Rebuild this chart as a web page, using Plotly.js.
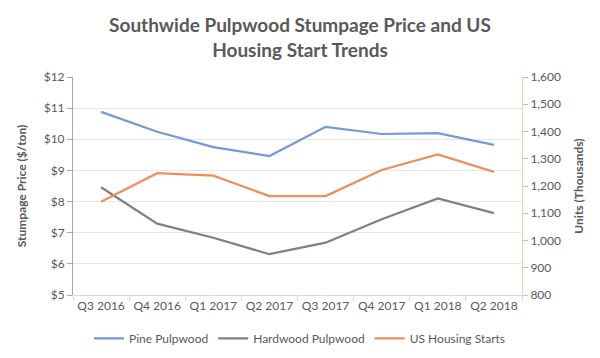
<!DOCTYPE html>
<html><head><meta charset="utf-8">
<script src="https://cdn.plot.ly/plotly-3.0.1.min.js"></script>
<style>html,body{margin:0;padding:0;background:#fff}#chart{width:600px;height:358px}</style>
</head><body><div id="chart"></div>
<script>
const quarters = ["Q3 2016","Q4 2016","Q1 2017","Q2 2017","Q3 2017","Q4 2017","Q1 2018","Q2 2018"];
const pinePulpwood = [10.88, 10.24, 9.75, 9.46, 10.40, 10.17, 10.20, 9.82];
const hardwoodPulpwood = [8.46, 7.29, 6.84, 6.31, 6.68, 7.43, 8.10, 7.63];
const housingStarts = [1142, 1247, 1238, 1163, 1163, 1259, 1316, 1252];
const leftTicks = [5,6,7,8,9,10,11,12];
const rightTicks = [800,900,1000,1100,1200,1300,1400,1500,1600];

const font = "Lato, 'Open Sans', sans-serif";
const traces = [
  {x: quarters, y: pinePulpwood, name: "Pine Pulpwood", type: "scatter", mode: "lines",
   line: {color: "#7798D6", width: 2.2}, yaxis: "y"},
  {x: quarters, y: hardwoodPulpwood, name: "Hardwood Pulpwood", type: "scatter", mode: "lines",
   line: {color: "#808080", width: 2.2}, yaxis: "y"},
  {x: quarters, y: housingStarts, name: "US Housing Starts", type: "scatter", mode: "lines",
   line: {color: "#EE8E58", width: 2.2}, yaxis: "y2"}
];
const layout = {
  width: 600, height: 358,
  margin: {l: 73, r: 78, t: 77, b: 63},
  paper_bgcolor: "#fff", plot_bgcolor: "#fff",
  font: {family: font, color: "#595959", size: 12},
  title: {text: "<b>Southwide Pulpwood Stumpage Price and US<br>Housing Start Trends</b>",
    font: {family: font, size: 19, color: "#595959"}, x: 0.5, xanchor: "center",
    yref: "container", y: 0.91, yanchor: "middle"},
  xaxis: {type: "category", range: [-0.5, 7.5], tickson: "boundaries", ticks: "outside", ticklen: 5,
    tickangle: 0, tickcolor: "#D9D9D9", showline: true, linecolor: "#D9D9D9", showgrid: false,
    tickfont: {size: 12, color: "#595959"}},
  yaxis: {range: [5, 12], tickvals: leftTicks, ticktext: leftTicks.map(v => "$" + v),
    showline: true, linecolor: "#A6A6A6", ticks: "outside", ticklen: 5, tickcolor: "#A6A6A6",
    gridcolor: "#E6E6E6", zeroline: false, tickfont: {size: 12, color: "#595959"},
    title: {text: "<b>Stumpage Price ($/ton)</b>", font: {size: 12, color: "#595959"}, standoff: 14}},
  yaxis2: {range: [800, 1600], tickvals: rightTicks, ticktext: rightTicks.map(v => v.toLocaleString("en-US")),
    overlaying: "y", side: "right", showline: true, linecolor: "#F8CBAD", ticks: "outside", ticklen: 5,
    tickcolor: "#F4B183", showgrid: false, zeroline: false, tickfont: {size: 12, color: "#595959"},
    title: {text: "<b>Units (Thousands)</b>", font: {size: 12, color: "#595959"}, standoff: 14}},
  legend: {orientation: "h", x: 0.5, xanchor: "center", xref: "container", yref: "container",
    y: 0.055, yanchor: "middle",
    font: {size: 12, color: "#595959"}, itemwidth: 30, traceorder: "normal"},
  showlegend: true
};
Plotly.newPlot("chart", traces, layout, {displayModeBar: false, staticPlot: true});
</script></body></html>
